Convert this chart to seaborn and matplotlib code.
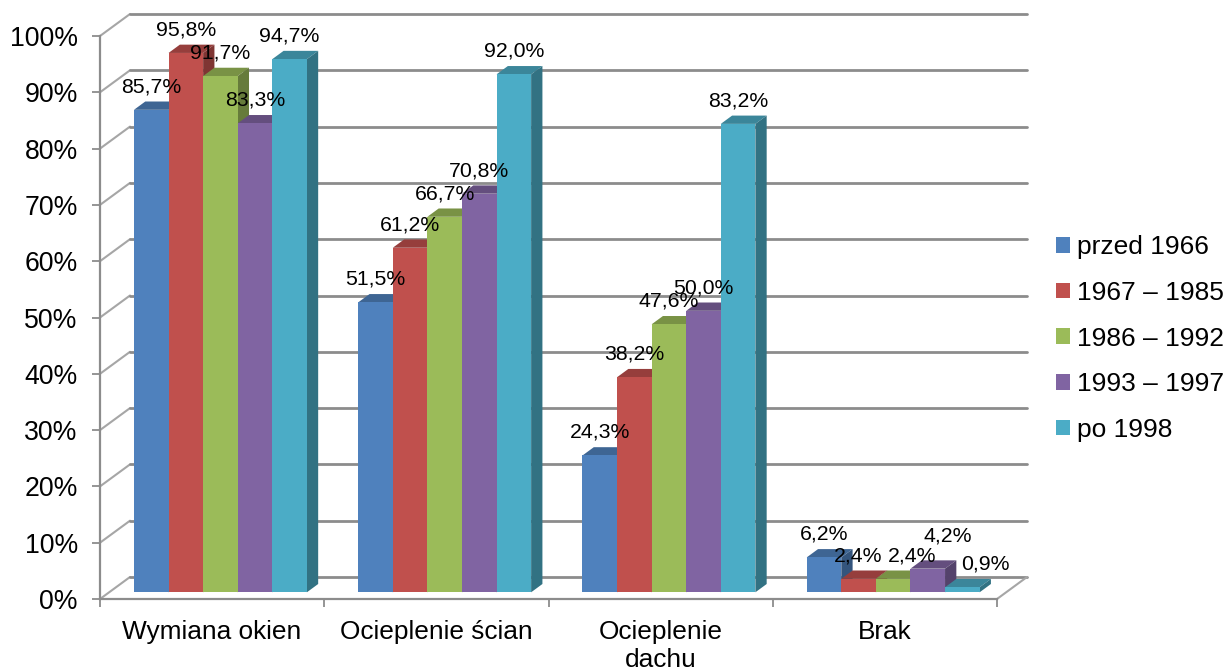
import pandas as pd
import matplotlib.pyplot as plt
import matplotlib.colors as mcolors
import seaborn as sns

categories = ['Wymiana okien', 'Ocieplenie ścian', 'Ocieplenie\ndachu', 'Brak']
periods = ['przed 1966', '1967 – 1985', '1986 – 1992', '1993 – 1997', 'po 1998']
przed_1966 = [85.7, 51.5, 24.3, 6.2]
lata_1967_1985 = [95.8, 61.2, 38.2, 2.4]
lata_1986_1992 = [91.7, 66.7, 47.6, 2.4]
lata_1993_1997 = [83.3, 70.8, 50.0, 4.2]
po_1998 = [94.7, 92.0, 83.2, 0.9]
y_ticks = [0, 10, 20, 30, 40, 50, 60, 70, 80, 90, 100]

colors = ['#4F81BD', '#C0504D', '#9BBB59', '#8064A2', '#4BACC6']
grid_color = '#8C8C8C'

# pixels per unit on both axes, used to fake the 3D depth
PX_X = 224.25
PX_Y = 5.63

# long table for seaborn
rows = []
for period, vals in zip(periods, [przed_1966, lata_1967_1985, lata_1986_1992, lata_1993_1997, po_1998]):
    for cat, v in zip(categories, vals):
        rows.append({'category': cat, 'period': period, 'value': v})
df = pd.DataFrame(rows)

sns.set_style('white')
plt.rcParams['font.family'] = ['Liberation Sans', 'DejaVu Sans']
plt.rcParams['text.color'] = 'black'
plt.rcParams['xtick.labelcolor'] = 'black'
plt.rcParams['ytick.labelcolor'] = 'black'

fig = plt.figure(figsize=(12.25, 6.7), dpi=100)
ax = fig.add_axes([100 / 1225, 1 - 599 / 670, 897 / 1225, 563 / 670])

sns.barplot(data=df, x='category', y='value', hue='period', order=categories,
            hue_order=periods, palette=colors, width=0.771, gap=0, saturation=1,
            linewidth=0, ax=ax)

# back wall and floor
wall_x = 30 / PX_X
wall_y = 22 / PX_Y
for v in y_ticks:
    ax.plot([-0.5, -0.5 + wall_x], [v, v + wall_y], color='#A6A6A6', lw=1.5, clip_on=False, zorder=1)
    ax.plot([-0.5 + wall_x, 3.5 + wall_x], [v + wall_y, v + wall_y], color=grid_color, lw=2.0,
            clip_on=False, zorder=1)
ax.plot([3.5, 3.5 + wall_x], [0, wall_y], color='#A6A6A6', lw=1.5, clip_on=False, zorder=1)

# move bars off the front edge and give each one a top and a side face
shift_x = 8.3 / PX_X
shift_y = 6.7 / PX_Y
depth_x = 11.3 / PX_X
depth_y = 8.3 / PX_Y
bars = ax.patches[:len(df)]
z = 3
for i, bar in enumerate(bars):
    h = bar.get_height()
    w = bar.get_width()
    left = bar.get_x() + shift_x
    bar.set_x(left)
    bar.set_y(shift_y)
    bar.set_clip_on(False)
    top = shift_y + h
    base = mcolors.to_rgb(colors[i // len(categories)])
    top_c = [c * 0.78 for c in base]
    side_c = [c * 0.66 for c in base]
    ax.fill([left, left + w, left + w + depth_x, left + depth_x],
            [top, top, top + depth_y, top + depth_y],
            color=top_c, lw=0, clip_on=False, zorder=z)
    ax.fill([left + w, left + w + depth_x, left + w + depth_x, left + w],
            [shift_y, shift_y + depth_y, top + depth_y, top],
            color=side_c, lw=0, clip_on=False, zorder=z)
    bar.set_zorder(z + 0.5)
    z += 1

# data labels, a few were moved by hand in the original
nudges = {(3, 2): (19, 0), (3, 3): (20, 10), (3, 4): (23, 0)}
for i, bar in enumerate(bars):
    s = i // len(categories)
    c = i % len(categories)
    nx, ny = nudges.get((c, s), (0, 0))
    label = f'{bar.get_height():.1f}%'.replace('.', ',')
    ax.annotate(label, (bar.get_x() + bar.get_width() / 2, bar.get_y() + bar.get_height()),
                xytext=(nx, 23 + ny), textcoords='offset pixels', ha='center', va='center',
                fontsize=15.3, color='black', zorder=100, annotation_clip=False)

ax.set_xlim(-0.5, 3.5)
ax.set_ylim(0, 100)
ax.set_xlabel('')
ax.set_ylabel('')

ax.set_yticks(y_ticks)
ax.set_yticklabels([f'{v}%' for v in y_ticks], fontsize=19.2)
ax.set_xticks(range(len(categories)))
ax.set_xticklabels(categories, fontsize=18.9, linespacing=1.2)
ax.set_xticks([-0.5, 0.5, 1.5, 2.5, 3.5], minor=True)
ax.tick_params(axis='x', which='major', length=0, pad=15)
ax.tick_params(axis='x', which='minor', length=5.5, width=1.3, color=grid_color, bottom=True)
ax.tick_params(axis='y', length=5.5, width=1.3, color=grid_color, left=True, pad=10.5)

sns.despine(ax=ax)
for side in ['left', 'bottom']:
    ax.spines[side].set_color(grid_color)
    ax.spines[side].set_linewidth(1.6)

sns.move_legend(ax, 'center left', bbox_to_anchor=(1056 / 1225, 1 - 338.5 / 670),
                bbox_transform=fig.transFigure, title=None, frameon=False, fontsize=19,
                handlelength=0.53, handleheight=0.53, handletextpad=0.25,
                labelspacing=0.82, borderpad=0, borderaxespad=0, labelcolor='black')

plt.savefig('out.png', dpi=100)
plt.close()
